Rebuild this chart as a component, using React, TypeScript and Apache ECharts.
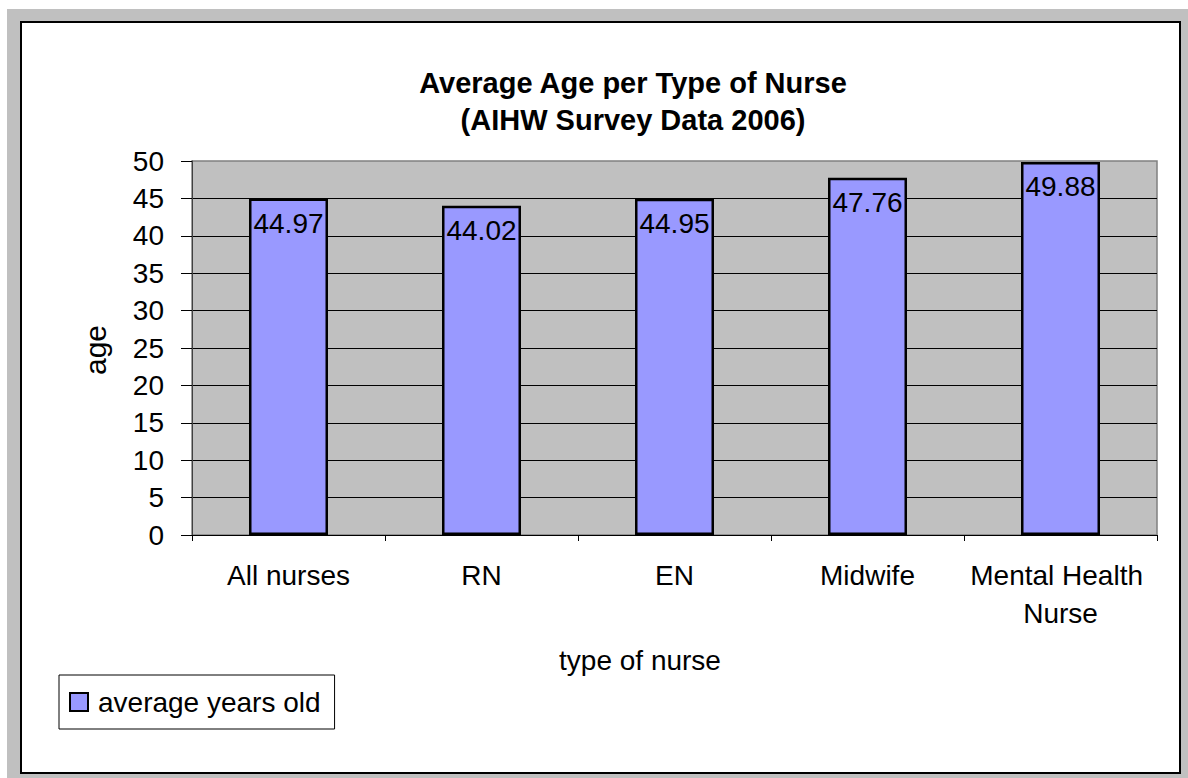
import React, { useEffect, useRef } from "react";
import * as echarts from "echarts";

const categories = ["All nurses", "RN", "EN", "Midwife", "Mental Health Nurse"];
const averageAge = [44.97, 44.02, 44.95, 47.76, 49.88];
const seriesName = "average years old";
const titleLines = ["Average Age per Type of Nurse", "(AIHW Survey Data 2006)"];
const yAxisTitle = "age";
const xAxisTitle = "type of nurse";
const yMin = 0;
const yMax = 50;
const yInterval = 5;

const FONT = "'Liberation Sans', Arial, Helvetica, sans-serif";

export default function App() {
  const ref = useRef<HTMLDivElement>(null);

  useEffect(() => {
    if (!ref.current) return;
    const chart = echarts.init(ref.current, null, { renderer: "svg" });
    const option: any = {
      animation: false,
      backgroundColor: "transparent",
      textStyle: { fontFamily: FONT, color: "#000" },
      graphic: [
        {
          type: "text",
          x: 633,
          y: 101.5,
          style: {
            text: titleLines.join("\n"),
            fontSize: 29,
            fontWeight: "bold",
            fontFamily: FONT,
            fill: "#000",
            align: "center",
            verticalAlign: "middle",
            lineHeight: 37,
          },
        },
        {
          type: "text",
          x: 95,
          y: 350,
          rotation: Math.PI / 2,
          style: {
            text: yAxisTitle,
            fontSize: 30,
            fontFamily: FONT,
            fill: "#000",
            align: "center",
            verticalAlign: "middle",
          },
        },
        {
          type: "text",
          x: 640,
          y: 660,
          style: {
            text: xAxisTitle,
            fontSize: 28,
            fontFamily: FONT,
            fill: "#000",
            align: "center",
            verticalAlign: "middle",
          },
        },
      ],
      legend: {
        left: 59,
        top: 675,
        orient: "horizontal",
        backgroundColor: "#fff",
        borderColor: "#000",
        borderWidth: 1,
        padding: [11, 14, 11, 10],
        itemWidth: 18,
        itemHeight: 18,
        icon: "rect",
        textStyle: {
          fontSize: 28,
          fontFamily: FONT,
          color: "#000",
          lineHeight: 32,
          padding: [0, 0, 0, 5],
        },
        data: [seriesName],
      },
      grid: {
        left: 192,
        top: 161,
        right: 31,
        bottom: 243,
        show: true,
        backgroundColor: "#c0c0c0",
        borderColor: "#808080",
        borderWidth: 1.5,
        containLabel: false,
      },
      xAxis: {
        type: "category",
        data: categories,
        boundaryGap: true,
        axisLine: { show: true, lineStyle: { color: "#000", width: 1 } },
        axisTick: {
          show: true,
          inside: false,
          length: 6,
          alignWithLabel: false,
          lineStyle: { color: "#000" },
        },
        axisLabel: {
          interval: 0,
          fontSize: 28,
          fontFamily: FONT,
          color: "#000",
          margin: 21,
          lineHeight: 38,
          width: 190,
          overflow: "break",
        },
        splitLine: { show: false },
      },
      yAxis: {
        type: "value",
        min: yMin,
        max: yMax,
        interval: yInterval,
        axisLine: { show: true, lineStyle: { color: "#404040", width: 1 } },
        axisTick: { show: true, inside: false, length: 11, lineStyle: { color: "#000" } },
        axisLabel: {
          fontSize: 28,
          fontFamily: FONT,
          color: "#000",
          margin: 28,
        },
        splitLine: {
          show: true,
          showMinLine: false,
          showMaxLine: false,
          lineStyle: { color: "#000", width: 1 },
        },
      },
      series: [
        {
          name: seriesName,
          type: "bar",
          data: averageAge,
          barWidth: 79,
          itemStyle: { color: "#9999ff", borderColor: "#000", borderWidth: 2.5 },
          label: {
            show: true,
            position: "insideTop",
            distance: 11,
            fontSize: 28,
            fontFamily: FONT,
            color: "#000",
          },
        },
      ],
    };
    chart.setOption(option);
    return () => chart.dispose();
  }, []);

  return (
    <div style={{ position: "absolute", left: 0, top: 0, width: 1188, height: 778, background: "#fff" }}>
      <div
        style={{
          position: "absolute",
          left: 7,
          top: 9,
          width: 1181,
          height: 769,
          background: "#c0c0c0",
        }}
      />
      <div
        style={{
          position: "absolute",
          left: 20,
          top: 21,
          width: 1161,
          height: 753,
          background: "#fff",
          border: "2px solid #000",
          boxSizing: "border-box",
        }}
      />
      <div ref={ref} style={{ position: "absolute", left: 0, top: 0, width: 1188, height: 778 }} />
    </div>
  );
}
